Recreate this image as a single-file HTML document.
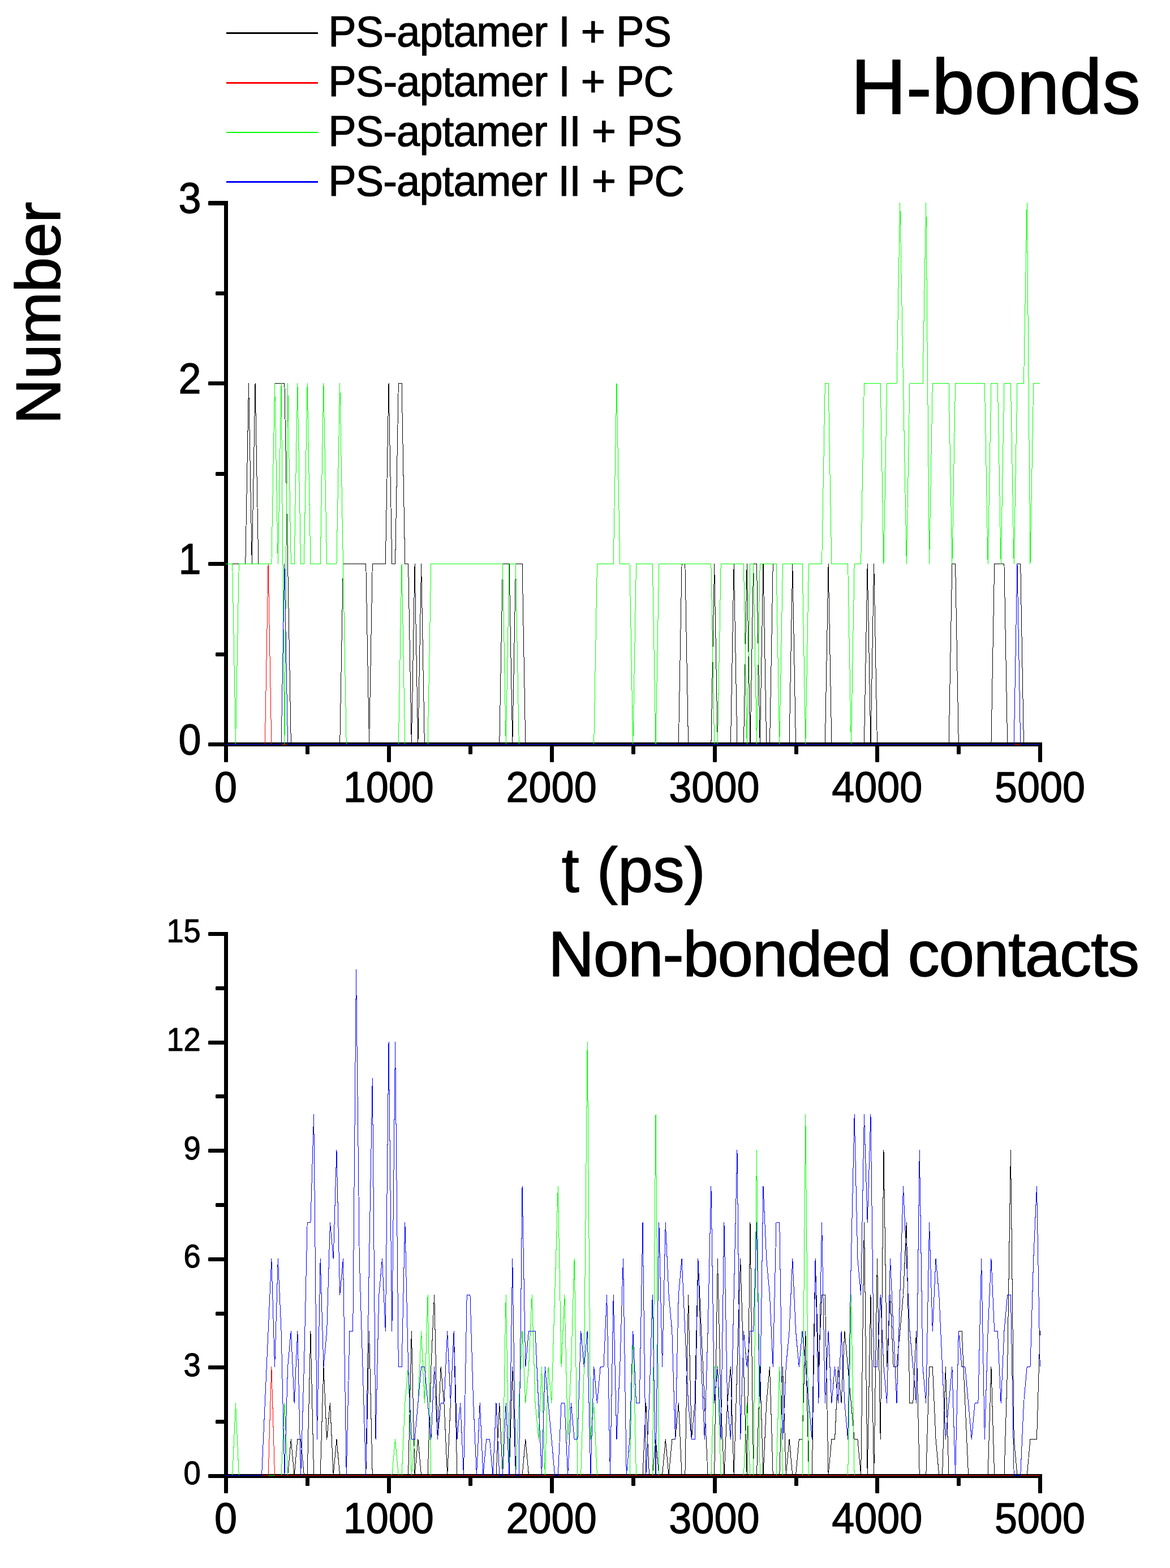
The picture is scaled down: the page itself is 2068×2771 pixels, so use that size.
<!DOCTYPE html>
<html lang="en">
<head>
<meta charset="utf-8">
<title>H-bonds and non-bonded contacts</title>
<style>
html, body { margin: 0; padding: 0; background: #ffffff; }
body { width: 2068px; height: 2771px; overflow: hidden; font-family: "Liberation Sans", Arial, Helvetica, sans-serif; }
main, figure { display: block; margin: 0; padding: 0; width: 2068px; height: 2771px; }
svg { display: block; }
text { white-space: pre; }
</style>
</head>
<body>
<main>
<figure>
<svg width="2068" height="2771" viewBox="0 0 2068 2771" role="img" aria-label="H-bonds and non-bonded contacts versus time">
<g fill="#000">
<rect x="396.0" y="355.0" width="7.0" height="964.0"/>
<rect x="396.0" y="1312.0" width="1446.0" height="7.0"/>
<rect x="368.0" y="1312.0" width="29.0" height="7.0" rx="1.5"/>
<rect x="381.0" y="1153.0" width="16.0" height="7.0" rx="1.5"/>
<rect x="368.0" y="993.0" width="29.0" height="7.0" rx="1.5"/>
<rect x="381.0" y="834.0" width="16.0" height="7.0" rx="1.5"/>
<rect x="368.0" y="674.0" width="29.0" height="7.0" rx="1.5"/>
<rect x="381.0" y="515.0" width="16.0" height="7.0" rx="1.5"/>
<rect x="368.0" y="355.0" width="29.0" height="8.0" rx="1.5"/>
<rect x="396.0" y="1318.0" width="7.0" height="29.0" rx="1.5"/>
<rect x="540.0" y="1318.0" width="7.0" height="15.0" rx="1.5"/>
<rect x="684.0" y="1318.0" width="7.0" height="29.0" rx="1.5"/>
<rect x="828.0" y="1318.0" width="7.0" height="15.0" rx="1.5"/>
<rect x="972.0" y="1318.0" width="7.0" height="29.0" rx="1.5"/>
<rect x="1116.0" y="1318.0" width="7.0" height="15.0" rx="1.5"/>
<rect x="1260.0" y="1318.0" width="7.0" height="29.0" rx="1.5"/>
<rect x="1404.0" y="1318.0" width="7.0" height="15.0" rx="1.5"/>
<rect x="1547.0" y="1318.0" width="7.0" height="29.0" rx="1.5"/>
<rect x="1691.0" y="1318.0" width="7.0" height="15.0" rx="1.5"/>
<rect x="1835.0" y="1318.0" width="7.0" height="29.0" rx="1.5"/>
<rect x="396.0" y="1647.0" width="7.0" height="965.0"/>
<rect x="396.0" y="2605.0" width="1446.0" height="7.0"/>
<rect x="368.0" y="2605.0" width="29.0" height="7.0" rx="1.5"/>
<rect x="381.0" y="2509.0" width="16.0" height="7.0" rx="1.5"/>
<rect x="368.0" y="2413.0" width="29.0" height="7.0" rx="1.5"/>
<rect x="381.0" y="2318.0" width="16.0" height="7.0" rx="1.5"/>
<rect x="368.0" y="2222.0" width="29.0" height="7.0" rx="1.5"/>
<rect x="381.0" y="2126.0" width="16.0" height="7.0" rx="1.5"/>
<rect x="368.0" y="2030.0" width="29.0" height="7.0" rx="1.5"/>
<rect x="381.0" y="1934.0" width="16.0" height="7.0" rx="1.5"/>
<rect x="368.0" y="1839.0" width="29.0" height="7.0" rx="1.5"/>
<rect x="381.0" y="1743.0" width="16.0" height="7.0" rx="1.5"/>
<rect x="368.0" y="1647.0" width="29.0" height="7.0" rx="1.5"/>
<rect x="396.0" y="2611.0" width="7.0" height="28.0" rx="1.5"/>
<rect x="540.0" y="2611.0" width="7.0" height="15.0" rx="1.5"/>
<rect x="684.0" y="2611.0" width="7.0" height="28.0" rx="1.5"/>
<rect x="828.0" y="2611.0" width="7.0" height="15.0" rx="1.5"/>
<rect x="972.0" y="2611.0" width="7.0" height="28.0" rx="1.5"/>
<rect x="1116.0" y="2611.0" width="7.0" height="15.0" rx="1.5"/>
<rect x="1260.0" y="2611.0" width="7.0" height="28.0" rx="1.5"/>
<rect x="1404.0" y="2611.0" width="7.0" height="15.0" rx="1.5"/>
<rect x="1547.0" y="2611.0" width="7.0" height="28.0" rx="1.5"/>
<rect x="1691.0" y="2611.0" width="7.0" height="15.0" rx="1.5"/>
<rect x="1835.0" y="2611.0" width="7.0" height="28.0" rx="1.5"/>
</g>
<g fill="none" stroke-width="1" shape-rendering="crispEdges" stroke-linejoin="miter">
<polyline points="399.25,996.5 405.01,996.5 410.76,996.5 416.52,996.5 422.27,996.5 428.03,996.5 433.79,996.5 439.54,677.5 445.30,996.5 451.05,677.5 456.81,996.5 462.57,996.5 468.32,996.5 474.08,996.5 479.83,996.5 485.59,677.5 491.35,677.5 497.10,677.5 502.86,677.5 508.61,996.5 514.37,1315.5 520.13,1315.5 525.88,1315.5 531.64,1315.5 537.39,1315.5 543.15,1315.5 548.91,1315.5 554.66,1315.5 560.42,1315.5 566.17,1315.5 571.93,1315.5 577.69,1315.5 583.44,1315.5 589.20,1315.5 594.95,1315.5 600.71,1315.5 606.47,996.5 612.22,996.5 617.98,996.5 623.73,996.5 629.49,996.5 635.25,996.5 641.00,996.5 646.76,996.5 652.51,1315.5 658.27,996.5 664.03,996.5 669.78,996.5 675.54,996.5 681.29,996.5 687.05,677.5 692.81,996.5 698.56,996.5 704.32,677.5 710.07,677.5 715.83,996.5 721.59,996.5 727.34,1315.5 733.10,996.5 738.85,1315.5 744.61,996.5 750.37,1315.5 756.12,1315.5 761.88,1315.5 767.63,1315.5 773.39,1315.5 779.15,1315.5 784.90,1315.5 790.66,1315.5 796.41,1315.5 802.17,1315.5 807.93,1315.5 813.68,1315.5 819.44,1315.5 825.19,1315.5 830.95,1315.5 836.71,1315.5 842.46,1315.5 848.22,1315.5 853.97,1315.5 859.73,1315.5 865.49,1315.5 871.24,1315.5 877.00,1315.5 882.75,1315.5 888.51,996.5 894.27,996.5 900.02,996.5 905.78,1315.5 911.53,996.5 917.29,996.5 923.05,996.5 928.80,1315.5 934.56,1315.5 940.31,1315.5 946.07,1315.5 951.83,1315.5 957.58,1315.5 963.34,1315.5 969.09,1315.5 974.85,1315.5 980.61,1315.5 986.36,1315.5 992.12,1315.5 997.87,1315.5 1003.63,1315.5 1009.39,1315.5 1015.14,1315.5 1020.90,1315.5 1026.65,1315.5 1032.41,1315.5 1038.17,1315.5 1043.92,1315.5 1049.68,1315.5 1055.43,1315.5 1061.19,1315.5 1066.95,1315.5 1072.70,1315.5 1078.46,1315.5 1084.21,1315.5 1089.97,1315.5 1095.73,1315.5 1101.48,1315.5 1107.24,1315.5 1112.99,1315.5 1118.75,1315.5 1124.51,1315.5 1130.26,1315.5 1136.02,1315.5 1141.77,1315.5 1147.53,1315.5 1153.29,1315.5 1159.04,1315.5 1164.80,1315.5 1170.55,1315.5 1176.31,1315.5 1182.07,1315.5 1187.82,1315.5 1193.58,1315.5 1199.33,1315.5 1205.09,996.5 1210.85,996.5 1216.60,1315.5 1222.36,1315.5 1228.11,1315.5 1233.87,1315.5 1239.63,1315.5 1245.38,1315.5 1251.14,1315.5 1256.89,1315.5 1262.65,996.5 1268.41,1315.5 1274.16,1315.5 1279.92,1315.5 1285.67,1315.5 1291.43,1315.5 1297.19,996.5 1302.94,1315.5 1308.70,1315.5 1314.45,1315.5 1320.21,996.5 1325.97,1315.5 1331.72,996.5 1337.48,996.5 1343.23,1315.5 1348.99,996.5 1354.75,1315.5 1360.50,1315.5 1366.26,996.5 1372.01,996.5 1377.77,1315.5 1383.53,1315.5 1389.28,1315.5 1395.04,1315.5 1400.79,996.5 1406.55,1315.5 1412.31,1315.5 1418.06,1315.5 1423.82,1315.5 1429.57,1315.5 1435.33,1315.5 1441.09,1315.5 1446.84,1315.5 1452.60,1315.5 1458.35,1315.5 1464.11,996.5 1469.87,1315.5 1475.62,1315.5 1481.38,1315.5 1487.13,1315.5 1492.89,1315.5 1498.65,1315.5 1504.40,1315.5 1510.16,1315.5 1515.91,1315.5 1521.67,1315.5 1527.43,1315.5 1533.18,996.5 1538.94,1315.5 1544.69,996.5 1550.45,1315.5 1556.21,1315.5 1561.96,1315.5 1567.72,1315.5 1573.47,1315.5 1579.23,1315.5 1584.99,1315.5 1590.74,1315.5 1596.50,1315.5 1602.25,1315.5 1608.01,1315.5 1613.77,1315.5 1619.52,1315.5 1625.28,1315.5 1631.03,1315.5 1636.79,1315.5 1642.55,1315.5 1648.30,1315.5 1654.06,1315.5 1659.81,1315.5 1665.57,1315.5 1671.33,1315.5 1677.08,1315.5 1682.84,996.5 1688.59,996.5 1694.35,1315.5 1700.11,1315.5 1705.86,1315.5 1711.62,1315.5 1717.37,1315.5 1723.13,1315.5 1728.89,1315.5 1734.64,1315.5 1740.40,1315.5 1746.15,1315.5 1751.91,1315.5 1757.67,996.5 1763.42,996.5 1769.18,996.5 1774.93,996.5 1780.69,1315.5 1786.45,1315.5 1792.20,1315.5 1797.96,996.5 1803.71,996.5 1809.47,1315.5 1815.23,1315.5 1820.98,1315.5 1826.74,1315.5 1832.49,1315.5 1838.25,1315.5" stroke="#000000"/>
<polyline points="399.25,1315.5 405.01,1315.5 410.76,1315.5 416.52,1315.5 422.27,1315.5 428.03,1315.5 433.79,1315.5 439.54,1315.5 445.30,1315.5 451.05,1315.5 456.81,1315.5 462.57,1315.5 468.32,1315.5 474.08,996.5 479.83,1315.5 485.59,1315.5 491.35,1315.5 497.10,1315.5 502.86,1315.5 508.61,1315.5 514.37,1315.5 520.13,1315.5 525.88,1315.5 531.64,1315.5 537.39,1315.5 543.15,1315.5 548.91,1315.5 554.66,1315.5 560.42,1315.5 566.17,1315.5 571.93,1315.5 577.69,1315.5 583.44,1315.5 589.20,1315.5 594.95,1315.5 600.71,1315.5 606.47,1315.5 612.22,1315.5 617.98,1315.5 623.73,1315.5 629.49,1315.5 635.25,1315.5 641.00,1315.5 646.76,1315.5 652.51,1315.5 658.27,1315.5 664.03,1315.5 669.78,1315.5 675.54,1315.5 681.29,1315.5 687.05,1315.5 692.81,1315.5 698.56,1315.5 704.32,1315.5 710.07,1315.5 715.83,1315.5 721.59,1315.5 727.34,1315.5 733.10,1315.5 738.85,1315.5 744.61,1315.5 750.37,1315.5 756.12,1315.5 761.88,1315.5 767.63,1315.5 773.39,1315.5 779.15,1315.5 784.90,1315.5 790.66,1315.5 796.41,1315.5 802.17,1315.5 807.93,1315.5 813.68,1315.5 819.44,1315.5 825.19,1315.5 830.95,1315.5 836.71,1315.5 842.46,1315.5 848.22,1315.5 853.97,1315.5 859.73,1315.5 865.49,1315.5 871.24,1315.5 877.00,1315.5 882.75,1315.5 888.51,1315.5 894.27,1315.5 900.02,1315.5 905.78,1315.5 911.53,1315.5 917.29,1315.5 923.05,1315.5 928.80,1315.5 934.56,1315.5 940.31,1315.5 946.07,1315.5 951.83,1315.5 957.58,1315.5 963.34,1315.5 969.09,1315.5 974.85,1315.5 980.61,1315.5 986.36,1315.5 992.12,1315.5 997.87,1315.5 1003.63,1315.5 1009.39,1315.5 1015.14,1315.5 1020.90,1315.5 1026.65,1315.5 1032.41,1315.5 1038.17,1315.5 1043.92,1315.5 1049.68,1315.5 1055.43,1315.5 1061.19,1315.5 1066.95,1315.5 1072.70,1315.5 1078.46,1315.5 1084.21,1315.5 1089.97,1315.5 1095.73,1315.5 1101.48,1315.5 1107.24,1315.5 1112.99,1315.5 1118.75,1315.5 1124.51,1315.5 1130.26,1315.5 1136.02,1315.5 1141.77,1315.5 1147.53,1315.5 1153.29,1315.5 1159.04,1315.5 1164.80,1315.5 1170.55,1315.5 1176.31,1315.5 1182.07,1315.5 1187.82,1315.5 1193.58,1315.5 1199.33,1315.5 1205.09,1315.5 1210.85,1315.5 1216.60,1315.5 1222.36,1315.5 1228.11,1315.5 1233.87,1315.5 1239.63,1315.5 1245.38,1315.5 1251.14,1315.5 1256.89,1315.5 1262.65,1315.5 1268.41,1315.5 1274.16,1315.5 1279.92,1315.5 1285.67,1315.5 1291.43,1315.5 1297.19,1315.5 1302.94,1315.5 1308.70,1315.5 1314.45,1315.5 1320.21,1315.5 1325.97,1315.5 1331.72,1315.5 1337.48,1315.5 1343.23,1315.5 1348.99,1315.5 1354.75,1315.5 1360.50,1315.5 1366.26,1315.5 1372.01,1315.5 1377.77,1315.5 1383.53,1315.5 1389.28,1315.5 1395.04,1315.5 1400.79,1315.5 1406.55,1315.5 1412.31,1315.5 1418.06,1315.5 1423.82,1315.5 1429.57,1315.5 1435.33,1315.5 1441.09,1315.5 1446.84,1315.5 1452.60,1315.5 1458.35,1315.5 1464.11,1315.5 1469.87,1315.5 1475.62,1315.5 1481.38,1315.5 1487.13,1315.5 1492.89,1315.5 1498.65,1315.5 1504.40,1315.5 1510.16,1315.5 1515.91,1315.5 1521.67,1315.5 1527.43,1315.5 1533.18,1315.5 1538.94,1315.5 1544.69,1315.5 1550.45,1315.5 1556.21,1315.5 1561.96,1315.5 1567.72,1315.5 1573.47,1315.5 1579.23,1315.5 1584.99,1315.5 1590.74,1315.5 1596.50,1315.5 1602.25,1315.5 1608.01,1315.5 1613.77,1315.5 1619.52,1315.5 1625.28,1315.5 1631.03,1315.5 1636.79,1315.5 1642.55,1315.5 1648.30,1315.5 1654.06,1315.5 1659.81,1315.5 1665.57,1315.5 1671.33,1315.5 1677.08,1315.5 1682.84,1315.5 1688.59,1315.5 1694.35,1315.5 1700.11,1315.5 1705.86,1315.5 1711.62,1315.5 1717.37,1315.5 1723.13,1315.5 1728.89,1315.5 1734.64,1315.5 1740.40,1315.5 1746.15,1315.5 1751.91,1315.5 1757.67,1315.5 1763.42,1315.5 1769.18,1315.5 1774.93,1315.5 1780.69,1315.5 1786.45,1315.5 1792.20,1315.5 1797.96,1315.5 1803.71,1315.5 1809.47,1315.5 1815.23,1315.5 1820.98,1315.5 1826.74,1315.5 1832.49,1315.5 1838.25,1315.5" stroke="#ff0000"/>
<polyline points="399.25,996.5 405.01,996.5 410.76,996.5 416.52,1315.5 422.27,996.5 428.03,996.5 433.79,996.5 439.54,996.5 445.30,996.5 451.05,996.5 456.81,996.5 462.57,996.5 468.32,996.5 474.08,996.5 479.83,996.5 485.59,677.5 491.35,996.5 497.10,677.5 502.86,1315.5 508.61,677.5 514.37,996.5 520.13,996.5 525.88,677.5 531.64,996.5 537.39,996.5 543.15,677.5 548.91,996.5 554.66,996.5 560.42,996.5 566.17,996.5 571.93,677.5 577.69,996.5 583.44,996.5 589.20,996.5 594.95,996.5 600.71,677.5 606.47,996.5 612.22,1315.5 617.98,1315.5 623.73,1315.5 629.49,1315.5 635.25,1315.5 641.00,1315.5 646.76,1315.5 652.51,1315.5 658.27,1315.5 664.03,1315.5 669.78,1315.5 675.54,1315.5 681.29,1315.5 687.05,1315.5 692.81,1315.5 698.56,1315.5 704.32,1315.5 710.07,996.5 715.83,1315.5 721.59,1315.5 727.34,1315.5 733.10,1315.5 738.85,1315.5 744.61,1315.5 750.37,1315.5 756.12,1315.5 761.88,996.5 767.63,996.5 773.39,996.5 779.15,996.5 784.90,996.5 790.66,996.5 796.41,996.5 802.17,996.5 807.93,996.5 813.68,996.5 819.44,996.5 825.19,996.5 830.95,996.5 836.71,996.5 842.46,996.5 848.22,996.5 853.97,996.5 859.73,996.5 865.49,996.5 871.24,996.5 877.00,996.5 882.75,996.5 888.51,996.5 894.27,1315.5 900.02,996.5 905.78,996.5 911.53,996.5 917.29,1315.5 923.05,1315.5 928.80,1315.5 934.56,1315.5 940.31,1315.5 946.07,1315.5 951.83,1315.5 957.58,1315.5 963.34,1315.5 969.09,1315.5 974.85,1315.5 980.61,1315.5 986.36,1315.5 992.12,1315.5 997.87,1315.5 1003.63,1315.5 1009.39,1315.5 1015.14,1315.5 1020.90,1315.5 1026.65,1315.5 1032.41,1315.5 1038.17,1315.5 1043.92,1315.5 1049.68,1315.5 1055.43,996.5 1061.19,996.5 1066.95,996.5 1072.70,996.5 1078.46,996.5 1084.21,996.5 1089.97,677.5 1095.73,996.5 1101.48,996.5 1107.24,996.5 1112.99,996.5 1118.75,1315.5 1124.51,996.5 1130.26,996.5 1136.02,996.5 1141.77,996.5 1147.53,996.5 1153.29,996.5 1159.04,1315.5 1164.80,996.5 1170.55,996.5 1176.31,996.5 1182.07,996.5 1187.82,996.5 1193.58,996.5 1199.33,996.5 1205.09,996.5 1210.85,996.5 1216.60,996.5 1222.36,996.5 1228.11,996.5 1233.87,996.5 1239.63,996.5 1245.38,996.5 1251.14,996.5 1256.89,996.5 1262.65,1315.5 1268.41,1315.5 1274.16,996.5 1279.92,996.5 1285.67,996.5 1291.43,996.5 1297.19,996.5 1302.94,996.5 1308.70,996.5 1314.45,996.5 1320.21,1315.5 1325.97,996.5 1331.72,996.5 1337.48,1315.5 1343.23,996.5 1348.99,996.5 1354.75,996.5 1360.50,996.5 1366.26,996.5 1372.01,996.5 1377.77,1315.5 1383.53,996.5 1389.28,996.5 1395.04,996.5 1400.79,996.5 1406.55,996.5 1412.31,996.5 1418.06,996.5 1423.82,1315.5 1429.57,996.5 1435.33,996.5 1441.09,996.5 1446.84,996.5 1452.60,996.5 1458.35,677.5 1464.11,677.5 1469.87,996.5 1475.62,996.5 1481.38,996.5 1487.13,996.5 1492.89,996.5 1498.65,996.5 1504.40,1315.5 1510.16,996.5 1515.91,996.5 1521.67,996.5 1527.43,677.5 1533.18,677.5 1538.94,677.5 1544.69,677.5 1550.45,677.5 1556.21,677.5 1561.96,996.5 1567.72,677.5 1573.47,677.5 1579.23,677.5 1584.99,677.5 1590.74,358.5 1596.50,677.5 1602.25,996.5 1608.01,677.5 1613.77,677.5 1619.52,677.5 1625.28,677.5 1631.03,677.5 1636.79,358.5 1642.55,996.5 1648.30,677.5 1654.06,677.5 1659.81,677.5 1665.57,677.5 1671.33,677.5 1677.08,677.5 1682.84,996.5 1688.59,677.5 1694.35,677.5 1700.11,677.5 1705.86,677.5 1711.62,677.5 1717.37,677.5 1723.13,677.5 1728.89,677.5 1734.64,677.5 1740.40,677.5 1746.15,996.5 1751.91,677.5 1757.67,677.5 1763.42,677.5 1769.18,996.5 1774.93,677.5 1780.69,677.5 1786.45,677.5 1792.20,996.5 1797.96,677.5 1803.71,677.5 1809.47,677.5 1815.23,358.5 1820.98,996.5 1826.74,677.5 1832.49,677.5 1838.25,677.5" stroke="#00ff00"/>
<polyline points="399.25,1315.5 405.01,1315.5 410.76,1315.5 416.52,1315.5 422.27,1315.5 428.03,1315.5 433.79,1315.5 439.54,1315.5 445.30,1315.5 451.05,1315.5 456.81,1315.5 462.57,1315.5 468.32,1315.5 474.08,1315.5 479.83,1315.5 485.59,1315.5 491.35,1315.5 497.10,1315.5 502.86,996.5 508.61,1315.5 514.37,1315.5 520.13,1315.5 525.88,1315.5 531.64,1315.5 537.39,1315.5 543.15,1315.5 548.91,1315.5 554.66,1315.5 560.42,1315.5 566.17,1315.5 571.93,1315.5 577.69,1315.5 583.44,1315.5 589.20,1315.5 594.95,1315.5 600.71,1315.5 606.47,1315.5 612.22,1315.5 617.98,1315.5 623.73,1315.5 629.49,1315.5 635.25,1315.5 641.00,1315.5 646.76,1315.5 652.51,1315.5 658.27,1315.5 664.03,1315.5 669.78,1315.5 675.54,1315.5 681.29,1315.5 687.05,1315.5 692.81,1315.5 698.56,1315.5 704.32,1315.5 710.07,1315.5 715.83,1315.5 721.59,1315.5 727.34,1315.5 733.10,1315.5 738.85,1315.5 744.61,1315.5 750.37,1315.5 756.12,1315.5 761.88,1315.5 767.63,1315.5 773.39,1315.5 779.15,1315.5 784.90,1315.5 790.66,1315.5 796.41,1315.5 802.17,1315.5 807.93,1315.5 813.68,1315.5 819.44,1315.5 825.19,1315.5 830.95,1315.5 836.71,1315.5 842.46,1315.5 848.22,1315.5 853.97,1315.5 859.73,1315.5 865.49,1315.5 871.24,1315.5 877.00,1315.5 882.75,1315.5 888.51,1315.5 894.27,1315.5 900.02,1315.5 905.78,1315.5 911.53,1315.5 917.29,1315.5 923.05,1315.5 928.80,1315.5 934.56,1315.5 940.31,1315.5 946.07,1315.5 951.83,1315.5 957.58,1315.5 963.34,1315.5 969.09,1315.5 974.85,1315.5 980.61,1315.5 986.36,1315.5 992.12,1315.5 997.87,1315.5 1003.63,1315.5 1009.39,1315.5 1015.14,1315.5 1020.90,1315.5 1026.65,1315.5 1032.41,1315.5 1038.17,1315.5 1043.92,1315.5 1049.68,1315.5 1055.43,1315.5 1061.19,1315.5 1066.95,1315.5 1072.70,1315.5 1078.46,1315.5 1084.21,1315.5 1089.97,1315.5 1095.73,1315.5 1101.48,1315.5 1107.24,1315.5 1112.99,1315.5 1118.75,1315.5 1124.51,1315.5 1130.26,1315.5 1136.02,1315.5 1141.77,1315.5 1147.53,1315.5 1153.29,1315.5 1159.04,1315.5 1164.80,1315.5 1170.55,1315.5 1176.31,1315.5 1182.07,1315.5 1187.82,1315.5 1193.58,1315.5 1199.33,1315.5 1205.09,1315.5 1210.85,1315.5 1216.60,1315.5 1222.36,1315.5 1228.11,1315.5 1233.87,1315.5 1239.63,1315.5 1245.38,1315.5 1251.14,1315.5 1256.89,1315.5 1262.65,1315.5 1268.41,1315.5 1274.16,1315.5 1279.92,1315.5 1285.67,1315.5 1291.43,1315.5 1297.19,1315.5 1302.94,1315.5 1308.70,1315.5 1314.45,1315.5 1320.21,1315.5 1325.97,1315.5 1331.72,1315.5 1337.48,1315.5 1343.23,1315.5 1348.99,1315.5 1354.75,1315.5 1360.50,1315.5 1366.26,1315.5 1372.01,1315.5 1377.77,1315.5 1383.53,1315.5 1389.28,1315.5 1395.04,1315.5 1400.79,1315.5 1406.55,1315.5 1412.31,1315.5 1418.06,1315.5 1423.82,1315.5 1429.57,1315.5 1435.33,1315.5 1441.09,1315.5 1446.84,1315.5 1452.60,1315.5 1458.35,1315.5 1464.11,1315.5 1469.87,1315.5 1475.62,1315.5 1481.38,1315.5 1487.13,1315.5 1492.89,1315.5 1498.65,1315.5 1504.40,1315.5 1510.16,1315.5 1515.91,1315.5 1521.67,1315.5 1527.43,1315.5 1533.18,1315.5 1538.94,1315.5 1544.69,1315.5 1550.45,1315.5 1556.21,1315.5 1561.96,1315.5 1567.72,1315.5 1573.47,1315.5 1579.23,1315.5 1584.99,1315.5 1590.74,1315.5 1596.50,1315.5 1602.25,1315.5 1608.01,1315.5 1613.77,1315.5 1619.52,1315.5 1625.28,1315.5 1631.03,1315.5 1636.79,1315.5 1642.55,1315.5 1648.30,1315.5 1654.06,1315.5 1659.81,1315.5 1665.57,1315.5 1671.33,1315.5 1677.08,1315.5 1682.84,1315.5 1688.59,1315.5 1694.35,1315.5 1700.11,1315.5 1705.86,1315.5 1711.62,1315.5 1717.37,1315.5 1723.13,1315.5 1728.89,1315.5 1734.64,1315.5 1740.40,1315.5 1746.15,1315.5 1751.91,1315.5 1757.67,1315.5 1763.42,1315.5 1769.18,1315.5 1774.93,1315.5 1780.69,1315.5 1786.45,1315.5 1792.20,1315.5 1797.96,996.5 1803.71,1315.5 1809.47,1315.5 1815.23,1315.5 1820.98,1315.5 1826.74,1315.5 1832.49,1315.5 1838.25,1315.5" stroke="#0000ff"/>
<polyline points="399.25,2607.5 405.01,2607.5 410.76,2607.5 416.52,2607.5 422.27,2607.5 428.03,2607.5 433.79,2607.5 439.54,2607.5 445.30,2607.5 451.05,2607.5 456.81,2607.5 462.57,2607.5 468.32,2607.5 474.08,2607.5 479.83,2607.5 485.59,2607.5 491.35,2607.5 497.10,2607.5 502.86,2607.5 508.61,2607.5 514.37,2543.5 520.13,2607.5 525.88,2543.5 531.64,2543.5 537.39,2607.5 543.15,2607.5 548.91,2352.5 554.66,2607.5 560.42,2607.5 566.17,2607.5 571.93,2415.5 577.69,2543.5 583.44,2479.5 589.20,2607.5 594.95,2543.5 600.71,2607.5 606.47,2607.5 612.22,2607.5 617.98,2607.5 623.73,2607.5 629.49,2607.5 635.25,2607.5 641.00,2607.5 646.76,2607.5 652.51,2352.5 658.27,2607.5 664.03,2607.5 669.78,2607.5 675.54,2607.5 681.29,2607.5 687.05,2607.5 692.81,2607.5 698.56,2607.5 704.32,2607.5 710.07,2607.5 715.83,2607.5 721.59,2607.5 727.34,2352.5 733.10,2607.5 738.85,2543.5 744.61,2607.5 750.37,2607.5 756.12,2607.5 761.88,2415.5 767.63,2288.5 773.39,2543.5 779.15,2415.5 784.90,2479.5 790.66,2607.5 796.41,2479.5 802.17,2352.5 807.93,2607.5 813.68,2607.5 819.44,2607.5 825.19,2607.5 830.95,2607.5 836.71,2607.5 842.46,2607.5 848.22,2607.5 853.97,2607.5 859.73,2607.5 865.49,2607.5 871.24,2607.5 877.00,2607.5 882.75,2479.5 888.51,2607.5 894.27,2607.5 900.02,2607.5 905.78,2415.5 911.53,2607.5 917.29,2607.5 923.05,2607.5 928.80,2543.5 934.56,2607.5 940.31,2607.5 946.07,2607.5 951.83,2607.5 957.58,2607.5 963.34,2607.5 969.09,2607.5 974.85,2607.5 980.61,2607.5 986.36,2607.5 992.12,2607.5 997.87,2607.5 1003.63,2607.5 1009.39,2607.5 1015.14,2607.5 1020.90,2607.5 1026.65,2607.5 1032.41,2607.5 1038.17,2607.5 1043.92,2607.5 1049.68,2607.5 1055.43,2607.5 1061.19,2607.5 1066.95,2607.5 1072.70,2607.5 1078.46,2607.5 1084.21,2607.5 1089.97,2607.5 1095.73,2607.5 1101.48,2607.5 1107.24,2607.5 1112.99,2607.5 1118.75,2607.5 1124.51,2607.5 1130.26,2607.5 1136.02,2607.5 1141.77,2479.5 1147.53,2607.5 1153.29,2607.5 1159.04,2543.5 1164.80,2607.5 1170.55,2607.5 1176.31,2543.5 1182.07,2607.5 1187.82,2543.5 1193.58,2543.5 1199.33,2479.5 1205.09,2607.5 1210.85,2607.5 1216.60,2288.5 1222.36,2543.5 1228.11,2479.5 1233.87,2224.5 1239.63,2352.5 1245.38,2479.5 1251.14,2607.5 1256.89,2607.5 1262.65,2607.5 1268.41,2224.5 1274.16,2479.5 1279.92,2607.5 1285.67,2479.5 1291.43,2415.5 1297.19,2607.5 1302.94,2415.5 1308.70,2224.5 1314.45,2415.5 1320.21,2607.5 1325.97,2160.5 1331.72,2607.5 1337.48,2607.5 1343.23,2415.5 1348.99,2607.5 1354.75,2479.5 1360.50,2415.5 1366.26,2607.5 1372.01,2607.5 1377.77,2607.5 1383.53,2415.5 1389.28,2607.5 1395.04,2543.5 1400.79,2607.5 1406.55,2607.5 1412.31,2543.5 1418.06,2543.5 1423.82,2352.5 1429.57,2607.5 1435.33,2607.5 1441.09,2224.5 1446.84,2415.5 1452.60,2288.5 1458.35,2288.5 1464.11,2607.5 1469.87,2543.5 1475.62,2543.5 1481.38,2415.5 1487.13,2479.5 1492.89,2352.5 1498.65,2415.5 1504.40,2479.5 1510.16,2543.5 1515.91,2543.5 1521.67,2607.5 1527.43,2160.5 1533.18,2607.5 1538.94,2288.5 1544.69,2607.5 1550.45,2224.5 1556.21,2543.5 1561.96,2032.5 1567.72,2415.5 1573.47,2288.5 1579.23,2415.5 1584.99,2415.5 1590.74,2352.5 1596.50,2288.5 1602.25,2160.5 1608.01,2479.5 1613.77,2479.5 1619.52,2352.5 1625.28,2607.5 1631.03,2607.5 1636.79,2607.5 1642.55,2415.5 1648.30,2415.5 1654.06,2543.5 1659.81,2607.5 1665.57,2607.5 1671.33,2415.5 1677.08,2607.5 1682.84,2607.5 1688.59,2607.5 1694.35,2352.5 1700.11,2352.5 1705.86,2479.5 1711.62,2607.5 1717.37,2607.5 1723.13,2607.5 1728.89,2607.5 1734.64,2607.5 1740.40,2607.5 1746.15,2607.5 1751.91,2415.5 1757.67,2607.5 1763.42,2607.5 1769.18,2607.5 1774.93,2607.5 1780.69,2415.5 1786.45,2032.5 1792.20,2543.5 1797.96,2607.5 1803.71,2607.5 1809.47,2607.5 1815.23,2607.5 1820.98,2543.5 1826.74,2543.5 1832.49,2543.5 1838.25,2352.5" stroke="#000000"/>
<polyline points="399.25,2607.5 405.01,2607.5 410.76,2607.5 416.52,2479.5 422.27,2607.5 428.03,2607.5 433.79,2607.5 439.54,2607.5 445.30,2607.5 451.05,2607.5 456.81,2607.5 462.57,2607.5 468.32,2607.5 474.08,2607.5 479.83,2607.5 485.59,2607.5 491.35,2607.5 497.10,2607.5 502.86,2479.5 508.61,2607.5 514.37,2607.5 520.13,2607.5 525.88,2607.5 531.64,2607.5 537.39,2607.5 543.15,2607.5 548.91,2607.5 554.66,2607.5 560.42,2607.5 566.17,2607.5 571.93,2607.5 577.69,2607.5 583.44,2607.5 589.20,2607.5 594.95,2607.5 600.71,2607.5 606.47,2607.5 612.22,2607.5 617.98,2607.5 623.73,2607.5 629.49,2607.5 635.25,2607.5 641.00,2607.5 646.76,2607.5 652.51,2607.5 658.27,2607.5 664.03,2607.5 669.78,2607.5 675.54,2607.5 681.29,2607.5 687.05,2607.5 692.81,2607.5 698.56,2543.5 704.32,2607.5 710.07,2607.5 715.83,2479.5 721.59,2415.5 727.34,2607.5 733.10,2543.5 738.85,2479.5 744.61,2352.5 750.37,2479.5 756.12,2288.5 761.88,2607.5 767.63,2607.5 773.39,2607.5 779.15,2607.5 784.90,2607.5 790.66,2607.5 796.41,2607.5 802.17,2607.5 807.93,2607.5 813.68,2607.5 819.44,2607.5 825.19,2607.5 830.95,2607.5 836.71,2607.5 842.46,2607.5 848.22,2607.5 853.97,2607.5 859.73,2607.5 865.49,2607.5 871.24,2607.5 877.00,2607.5 882.75,2607.5 888.51,2607.5 894.27,2288.5 900.02,2607.5 905.78,2607.5 911.53,2607.5 917.29,2479.5 923.05,2352.5 928.80,2479.5 934.56,2415.5 940.31,2288.5 946.07,2479.5 951.83,2543.5 957.58,2415.5 963.34,2607.5 969.09,2415.5 974.85,2479.5 980.61,2288.5 986.36,2096.5 992.12,2415.5 997.87,2288.5 1003.63,2543.5 1009.39,2415.5 1015.14,2224.5 1020.90,2607.5 1026.65,2607.5 1032.41,2415.5 1038.17,1841.5 1043.92,2543.5 1049.68,2479.5 1055.43,2607.5 1061.19,2607.5 1066.95,2607.5 1072.70,2607.5 1078.46,2607.5 1084.21,2607.5 1089.97,2607.5 1095.73,2607.5 1101.48,2607.5 1107.24,2607.5 1112.99,2607.5 1118.75,2352.5 1124.51,2607.5 1130.26,2607.5 1136.02,2607.5 1141.77,2607.5 1147.53,2607.5 1153.29,2607.5 1159.04,1969.5 1164.80,2607.5 1170.55,2607.5 1176.31,2607.5 1182.07,2607.5 1187.82,2607.5 1193.58,2607.5 1199.33,2607.5 1205.09,2607.5 1210.85,2607.5 1216.60,2607.5 1222.36,2607.5 1228.11,2607.5 1233.87,2607.5 1239.63,2607.5 1245.38,2607.5 1251.14,2607.5 1256.89,2607.5 1262.65,2415.5 1268.41,2415.5 1274.16,2607.5 1279.92,2607.5 1285.67,2607.5 1291.43,2607.5 1297.19,2607.5 1302.94,2607.5 1308.70,2607.5 1314.45,2607.5 1320.21,2479.5 1325.97,2607.5 1331.72,2607.5 1337.48,2032.5 1343.23,2607.5 1348.99,2607.5 1354.75,2607.5 1360.50,2607.5 1366.26,2607.5 1372.01,2607.5 1377.77,2415.5 1383.53,2607.5 1389.28,2607.5 1395.04,2607.5 1400.79,2607.5 1406.55,2607.5 1412.31,2607.5 1418.06,2607.5 1423.82,1969.5 1429.57,2607.5 1435.33,2607.5 1441.09,2607.5 1446.84,2607.5 1452.60,2607.5 1458.35,2607.5 1464.11,2607.5 1469.87,2607.5 1475.62,2607.5 1481.38,2607.5 1487.13,2607.5 1492.89,2607.5 1498.65,2607.5 1504.40,2288.5 1510.16,2607.5 1515.91,2607.5 1521.67,2607.5 1527.43,2607.5 1533.18,2607.5 1538.94,2607.5 1544.69,2607.5 1550.45,2607.5 1556.21,2607.5 1561.96,2607.5 1567.72,2607.5 1573.47,2607.5 1579.23,2607.5 1584.99,2607.5 1590.74,2607.5 1596.50,2607.5 1602.25,2607.5 1608.01,2607.5 1613.77,2607.5 1619.52,2607.5 1625.28,2607.5 1631.03,2607.5 1636.79,2607.5 1642.55,2607.5 1648.30,2607.5 1654.06,2607.5 1659.81,2607.5 1665.57,2607.5 1671.33,2607.5 1677.08,2607.5 1682.84,2607.5 1688.59,2607.5 1694.35,2607.5 1700.11,2607.5 1705.86,2607.5 1711.62,2607.5 1717.37,2607.5 1723.13,2607.5 1728.89,2607.5 1734.64,2607.5 1740.40,2607.5 1746.15,2607.5 1751.91,2607.5 1757.67,2607.5 1763.42,2607.5 1769.18,2607.5 1774.93,2607.5 1780.69,2607.5 1786.45,2607.5 1792.20,2607.5 1797.96,2607.5 1803.71,2607.5 1809.47,2607.5 1815.23,2607.5 1820.98,2607.5 1826.74,2607.5 1832.49,2607.5 1838.25,2607.5" stroke="#00ff00"/>
<polyline points="399.25,2607.5 405.01,2607.5 410.76,2607.5 416.52,2607.5 422.27,2607.5 428.03,2607.5 433.79,2607.5 439.54,2607.5 445.30,2607.5 451.05,2607.5 456.81,2607.5 462.57,2607.5 468.32,2607.5 474.08,2607.5 479.83,2415.5 485.59,2607.5 491.35,2607.5 497.10,2607.5 502.86,2607.5 508.61,2607.5 514.37,2607.5 520.13,2607.5 525.88,2607.5 531.64,2607.5 537.39,2607.5 543.15,2607.5 548.91,2607.5 554.66,2607.5 560.42,2607.5 566.17,2607.5 571.93,2607.5 577.69,2607.5 583.44,2607.5 589.20,2607.5 594.95,2607.5 600.71,2607.5 606.47,2607.5 612.22,2607.5 617.98,2607.5 623.73,2607.5 629.49,2607.5 635.25,2607.5 641.00,2607.5 646.76,2607.5 652.51,2607.5 658.27,2607.5 664.03,2607.5 669.78,2607.5 675.54,2607.5 681.29,2607.5 687.05,2607.5 692.81,2607.5 698.56,2607.5 704.32,2607.5 710.07,2607.5 715.83,2607.5 721.59,2607.5 727.34,2607.5 733.10,2607.5 738.85,2607.5 744.61,2607.5 750.37,2607.5 756.12,2607.5 761.88,2607.5 767.63,2607.5 773.39,2607.5 779.15,2607.5 784.90,2607.5 790.66,2607.5 796.41,2607.5 802.17,2607.5 807.93,2607.5 813.68,2607.5 819.44,2607.5 825.19,2607.5 830.95,2607.5 836.71,2607.5 842.46,2607.5 848.22,2607.5 853.97,2607.5 859.73,2607.5 865.49,2607.5 871.24,2607.5 877.00,2607.5 882.75,2607.5 888.51,2607.5 894.27,2607.5 900.02,2607.5 905.78,2607.5 911.53,2607.5 917.29,2607.5 923.05,2607.5 928.80,2607.5 934.56,2607.5 940.31,2607.5 946.07,2607.5 951.83,2607.5 957.58,2607.5 963.34,2607.5 969.09,2607.5 974.85,2607.5 980.61,2607.5 986.36,2607.5 992.12,2607.5 997.87,2607.5 1003.63,2607.5 1009.39,2607.5 1015.14,2607.5 1020.90,2607.5 1026.65,2607.5 1032.41,2607.5 1038.17,2607.5 1043.92,2607.5 1049.68,2607.5 1055.43,2607.5 1061.19,2607.5 1066.95,2607.5 1072.70,2607.5 1078.46,2607.5 1084.21,2607.5 1089.97,2607.5 1095.73,2607.5 1101.48,2607.5 1107.24,2607.5 1112.99,2607.5 1118.75,2607.5 1124.51,2607.5 1130.26,2607.5 1136.02,2607.5 1141.77,2607.5 1147.53,2607.5 1153.29,2607.5 1159.04,2607.5 1164.80,2607.5 1170.55,2607.5 1176.31,2607.5 1182.07,2607.5 1187.82,2607.5 1193.58,2607.5 1199.33,2607.5 1205.09,2607.5 1210.85,2607.5 1216.60,2607.5 1222.36,2607.5 1228.11,2607.5 1233.87,2607.5 1239.63,2607.5 1245.38,2607.5 1251.14,2607.5 1256.89,2607.5 1262.65,2607.5 1268.41,2607.5 1274.16,2607.5 1279.92,2607.5 1285.67,2607.5 1291.43,2607.5 1297.19,2607.5 1302.94,2607.5 1308.70,2607.5 1314.45,2607.5 1320.21,2607.5 1325.97,2607.5 1331.72,2607.5 1337.48,2607.5 1343.23,2607.5 1348.99,2607.5 1354.75,2607.5 1360.50,2607.5 1366.26,2607.5 1372.01,2607.5 1377.77,2607.5 1383.53,2607.5 1389.28,2607.5 1395.04,2607.5 1400.79,2607.5 1406.55,2607.5 1412.31,2607.5 1418.06,2607.5 1423.82,2607.5 1429.57,2607.5 1435.33,2607.5 1441.09,2607.5 1446.84,2607.5 1452.60,2607.5 1458.35,2607.5 1464.11,2607.5 1469.87,2607.5 1475.62,2607.5 1481.38,2607.5 1487.13,2607.5 1492.89,2607.5 1498.65,2607.5 1504.40,2607.5 1510.16,2607.5 1515.91,2607.5 1521.67,2607.5 1527.43,2607.5 1533.18,2607.5 1538.94,2607.5 1544.69,2607.5 1550.45,2607.5 1556.21,2607.5 1561.96,2607.5 1567.72,2607.5 1573.47,2607.5 1579.23,2607.5 1584.99,2607.5 1590.74,2607.5 1596.50,2607.5 1602.25,2607.5 1608.01,2607.5 1613.77,2607.5 1619.52,2607.5 1625.28,2607.5 1631.03,2607.5 1636.79,2607.5 1642.55,2607.5 1648.30,2607.5 1654.06,2607.5 1659.81,2607.5 1665.57,2607.5 1671.33,2607.5 1677.08,2607.5 1682.84,2607.5 1688.59,2607.5 1694.35,2607.5 1700.11,2607.5 1705.86,2607.5 1711.62,2607.5 1717.37,2607.5 1723.13,2607.5 1728.89,2607.5 1734.64,2607.5 1740.40,2607.5 1746.15,2607.5 1751.91,2607.5 1757.67,2607.5 1763.42,2607.5 1769.18,2607.5 1774.93,2607.5 1780.69,2607.5 1786.45,2607.5 1792.20,2607.5 1797.96,2607.5 1803.71,2607.5 1809.47,2607.5 1815.23,2607.5 1820.98,2607.5 1826.74,2607.5 1832.49,2607.5 1838.25,2607.5" stroke="#ff0000"/>
<polyline points="399.25,2607.5 405.01,2607.5 410.76,2607.5 416.52,2607.5 422.27,2607.5 428.03,2607.5 433.79,2607.5 439.54,2607.5 445.30,2607.5 451.05,2607.5 456.81,2607.5 462.57,2607.5 468.32,2479.5 474.08,2352.5 479.83,2224.5 485.59,2415.5 491.35,2224.5 497.10,2352.5 502.86,2607.5 508.61,2415.5 514.37,2352.5 520.13,2479.5 525.88,2352.5 531.64,2607.5 537.39,2415.5 543.15,2160.5 548.91,2160.5 554.66,1969.5 560.42,2543.5 566.17,2224.5 571.93,2415.5 577.69,2352.5 583.44,2160.5 589.20,2224.5 594.95,2032.5 600.71,2288.5 606.47,2224.5 612.22,2607.5 617.98,2352.5 623.73,2352.5 629.49,1713.5 635.25,2224.5 641.00,2415.5 646.76,2607.5 652.51,2224.5 658.27,1905.5 664.03,2543.5 669.78,2288.5 675.54,2224.5 681.29,2352.5 687.05,1841.5 692.81,2352.5 698.56,1841.5 704.32,2415.5 710.07,2415.5 715.83,2160.5 721.59,2415.5 727.34,2543.5 733.10,2543.5 738.85,2479.5 744.61,2415.5 750.37,2415.5 756.12,2479.5 761.88,2543.5 767.63,2415.5 773.39,2543.5 779.15,2479.5 784.90,2479.5 790.66,2352.5 796.41,2479.5 802.17,2352.5 807.93,2543.5 813.68,2479.5 819.44,2607.5 825.19,2288.5 830.95,2288.5 836.71,2479.5 842.46,2607.5 848.22,2479.5 853.97,2607.5 859.73,2543.5 865.49,2543.5 871.24,2607.5 877.00,2479.5 882.75,2607.5 888.51,2607.5 894.27,2479.5 900.02,2607.5 905.78,2224.5 911.53,2607.5 917.29,2607.5 923.05,2096.5 928.80,2415.5 934.56,2352.5 940.31,2352.5 946.07,2352.5 951.83,2479.5 957.58,2607.5 963.34,2415.5 969.09,2479.5 974.85,2543.5 980.61,2607.5 986.36,2607.5 992.12,2479.5 997.87,2479.5 1003.63,2607.5 1009.39,2479.5 1015.14,2543.5 1020.90,2543.5 1026.65,2352.5 1032.41,2415.5 1038.17,2352.5 1043.92,2607.5 1049.68,2415.5 1055.43,2479.5 1061.19,2415.5 1066.95,2415.5 1072.70,2288.5 1078.46,2607.5 1084.21,2288.5 1089.97,2543.5 1095.73,2415.5 1101.48,2224.5 1107.24,2607.5 1112.99,2543.5 1118.75,2352.5 1124.51,2479.5 1130.26,2479.5 1136.02,2160.5 1141.77,2607.5 1147.53,2479.5 1153.29,2288.5 1159.04,2607.5 1164.80,2160.5 1170.55,2415.5 1176.31,2160.5 1182.07,2288.5 1187.82,2352.5 1193.58,2543.5 1199.33,2288.5 1205.09,2224.5 1210.85,2352.5 1216.60,2479.5 1222.36,2543.5 1228.11,2543.5 1233.87,2224.5 1239.63,2415.5 1245.38,2543.5 1251.14,2352.5 1256.89,2096.5 1262.65,2479.5 1268.41,2415.5 1274.16,2543.5 1279.92,2160.5 1285.67,2479.5 1291.43,2543.5 1297.19,2288.5 1302.94,2032.5 1308.70,2543.5 1314.45,2352.5 1320.21,2415.5 1325.97,2352.5 1331.72,2352.5 1337.48,2160.5 1343.23,2479.5 1348.99,2096.5 1354.75,2224.5 1360.50,2288.5 1366.26,2415.5 1372.01,2160.5 1377.77,2160.5 1383.53,2543.5 1389.28,2415.5 1395.04,2352.5 1400.79,2224.5 1406.55,2352.5 1412.31,2415.5 1418.06,2352.5 1423.82,2415.5 1429.57,2479.5 1435.33,2543.5 1441.09,2224.5 1446.84,2479.5 1452.60,2160.5 1458.35,2479.5 1464.11,2352.5 1469.87,2479.5 1475.62,2415.5 1481.38,2479.5 1487.13,2352.5 1492.89,2479.5 1498.65,2543.5 1504.40,2224.5 1510.16,1969.5 1515.91,2224.5 1521.67,2288.5 1527.43,1969.5 1533.18,2160.5 1538.94,1969.5 1544.69,2415.5 1550.45,2415.5 1556.21,2288.5 1561.96,2415.5 1567.72,2479.5 1573.47,2224.5 1579.23,2352.5 1584.99,2479.5 1590.74,2288.5 1596.50,2096.5 1602.25,2224.5 1608.01,2352.5 1613.77,2415.5 1619.52,2479.5 1625.28,2032.5 1631.03,2415.5 1636.79,2479.5 1642.55,2160.5 1648.30,2352.5 1654.06,2224.5 1659.81,2288.5 1665.57,2415.5 1671.33,2543.5 1677.08,2479.5 1682.84,2415.5 1688.59,2607.5 1694.35,2352.5 1700.11,2415.5 1705.86,2415.5 1711.62,2479.5 1717.37,2543.5 1723.13,2479.5 1728.89,2479.5 1734.64,2224.5 1740.40,2543.5 1746.15,2352.5 1751.91,2224.5 1757.67,2352.5 1763.42,2352.5 1769.18,2479.5 1774.93,2352.5 1780.69,2288.5 1786.45,2288.5 1792.20,2607.5 1797.96,2607.5 1803.71,2607.5 1809.47,2479.5 1815.23,2415.5 1820.98,2415.5 1826.74,2224.5 1832.49,2096.5 1838.25,2415.5" stroke="#0000ff"/>
</g>
<g shape-rendering="crispEdges">
<rect x="400" y="57" width="162" height="3" fill="#000000"/>
<rect x="400" y="145" width="162" height="3" fill="#ff0000"/>
<rect x="400" y="233" width="162" height="2" fill="#00ff00"/>
<rect x="400" y="320" width="162" height="3" fill="#0000ff"/>
</g>
<g fill="#000" stroke="#000" stroke-width="0.60" stroke-linejoin="round" font-family="'Liberation Sans', Arial, Helvetica, sans-serif">
<text transform="translate(580.20 81.80) scale(1 1.020)" font-size="74.00" stroke-width="1.19" text-anchor="start" letter-spacing="-0.76">PS-aptamer I + PS</text>
<text transform="translate(580.20 169.83) scale(1 1.020)" font-size="74.00" stroke-width="1.19" text-anchor="start" letter-spacing="-0.76">PS-aptamer I + PC</text>
<text transform="translate(580.20 257.86) scale(1 1.020)" font-size="74.00" stroke-width="1.19" text-anchor="start" letter-spacing="-0.82">PS-aptamer II + PS</text>
<text transform="translate(580.20 345.89) scale(1 1.020)" font-size="74.00" stroke-width="1.19" text-anchor="start" letter-spacing="-0.82">PS-aptamer II + PC</text>
<text transform="translate(1504.10 200.75) scale(1 1.010)" font-size="135.40" stroke-width="1.68" text-anchor="start">H-bonds</text>
<text transform="translate(968.90 1725.00)" font-size="112.50" stroke-width="1.50" text-anchor="start" letter-spacing="-1.35">Non-bonded contacts</text>
<text transform="translate(992.80 1576.00)" font-size="111.50" stroke-width="1.49" text-anchor="start">t (ps)</text>
<text transform="translate(106.00 750.10) rotate(-90)" font-size="112.00" stroke-width="1.50" text-anchor="start" letter-spacing="-1.00">Number</text>
<text transform="translate(355.60 1332.90) scale(1 1.068)" font-size="72.00" stroke-width="1.18" text-anchor="end">0</text>
<text transform="translate(355.60 1013.90) scale(1 1.068)" font-size="72.00" stroke-width="1.18" text-anchor="end">1</text>
<text transform="translate(355.60 694.90) scale(1 1.068)" font-size="72.00" stroke-width="1.18" text-anchor="end">2</text>
<text transform="translate(355.60 375.90) scale(1 1.068)" font-size="72.00" stroke-width="1.18" text-anchor="end">3</text>
<text transform="translate(399.00 1416.50) scale(1 1.068)" font-size="72.00" stroke-width="1.18" text-anchor="middle">0</text>
<text transform="translate(686.80 1416.50) scale(1 1.068)" font-size="72.00" stroke-width="1.18" text-anchor="middle">1000</text>
<text transform="translate(974.60 1416.50) scale(1 1.068)" font-size="72.00" stroke-width="1.18" text-anchor="middle">2000</text>
<text transform="translate(1262.40 1416.50) scale(1 1.068)" font-size="72.00" stroke-width="1.18" text-anchor="middle">3000</text>
<text transform="translate(1550.20 1416.50) scale(1 1.068)" font-size="72.00" stroke-width="1.18" text-anchor="middle">4000</text>
<text transform="translate(1838.00 1416.50) scale(1 1.068)" font-size="72.00" stroke-width="1.18" text-anchor="middle">5000</text>
<text transform="translate(399.00 2708.60) scale(1 1.068)" font-size="72.00" stroke-width="1.18" text-anchor="middle">0</text>
<text transform="translate(686.80 2708.60) scale(1 1.068)" font-size="72.00" stroke-width="1.18" text-anchor="middle">1000</text>
<text transform="translate(974.60 2708.60) scale(1 1.068)" font-size="72.00" stroke-width="1.18" text-anchor="middle">2000</text>
<text transform="translate(1262.40 2708.60) scale(1 1.068)" font-size="72.00" stroke-width="1.18" text-anchor="middle">3000</text>
<text transform="translate(1550.20 2708.60) scale(1 1.068)" font-size="72.00" stroke-width="1.18" text-anchor="middle">4000</text>
<text transform="translate(1838.00 2708.60) scale(1 1.068)" font-size="72.00" stroke-width="1.18" text-anchor="middle">5000</text>
<text transform="translate(354.40 2623.30) scale(1 1.065)" font-size="54.30" stroke-width="1.03" text-anchor="end" letter-spacing="-0.20">0</text>
<text transform="translate(354.40 2431.70) scale(1 1.065)" font-size="54.30" stroke-width="1.03" text-anchor="end" letter-spacing="-0.20">3</text>
<text transform="translate(354.40 2240.10) scale(1 1.065)" font-size="54.30" stroke-width="1.03" text-anchor="end" letter-spacing="-0.20">6</text>
<text transform="translate(354.40 2048.50) scale(1 1.065)" font-size="54.30" stroke-width="1.03" text-anchor="end" letter-spacing="-0.20">9</text>
<text transform="translate(354.40 1856.90) scale(1 1.065)" font-size="54.30" stroke-width="1.03" text-anchor="end" letter-spacing="-0.20">12</text>
<text transform="translate(354.40 1665.30) scale(1 1.065)" font-size="54.30" stroke-width="1.03" text-anchor="end" letter-spacing="-0.20">15</text>
</g>
</svg>
</figure>
</main>
</body>
</html>
